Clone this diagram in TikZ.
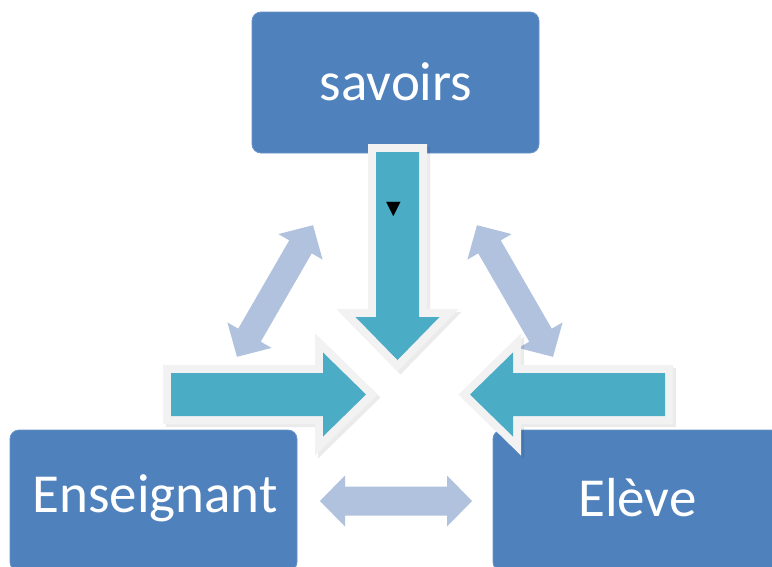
\documentclass[tikz,border=0pt]{standalone}
\usepackage{fontspec}
\setmainfont{Carlito}
\newfontfamily\symfont{DejaVu Sans}
\definecolor{boxblue}{HTML}{4F81BD}
\definecolor{tealc}{HTML}{4BACC6}
\definecolor{rimgray}{HTML}{F2F2F2}
\definecolor{lightarrow}{HTML}{B1C2DE}
\begin{document}
\begin{tikzpicture}[x=1pt,y=-1pt,
  box/.style={fill=boxblue, draw=boxblue!85!white, line width=0.8pt, rounded corners=9pt,
    minimum width=287pt, minimum height=141pt, inner sep=0pt, outer sep=0pt},
  boxtext/.style={text=white, font=\fontsize{55}{62}\selectfont, inner sep=0pt},
  dblarr/.style={fill=lightarrow},
  arrshadow/.style={draw=black, fill=black, opacity=0.08, line width=16pt, line join=miter},
  arrrim/.style={draw=rimgray, fill=rimgray, line width=16pt, line join=miter},
  arrbody/.style={fill=tealc}
]
\useasboundingbox (0,0) rectangle (772,566);
\fill[white] (0,0) rectangle (772,566);

% boxes
\node[box] (savoirs) at (395.5,82.5) {};
\node[box] (enseignant) at (153.5,500.5) {};
\node[box] (eleve) at (636.5,500.5) {};
\node[boxtext] (savoirsT) at (396,82) {savoirs};
\node[boxtext] (enseignantT) at (155,498) {Enseignant};
\node[boxtext] (eleveT) at (637.5,498) {Elève};

% light double arrows
\begin{scope}[shift={(275,291)}, rotate=60]
  \fill[dblarr] (-76,0) -- (-51,25.5) -- (-51,13) -- (51,13) -- (51,25.5) -- (76,0)
    -- (51,-25.5) -- (51,-13) -- (-51,-13) -- (-51,-25.5) -- cycle;
\end{scope}
\begin{scope}[shift={(515,291)}, rotate=-60]
  \fill[dblarr] (-76,0) -- (-51,25.5) -- (-51,13) -- (51,13) -- (51,25.5) -- (76,0)
    -- (51,-25.5) -- (51,-13) -- (-51,-13) -- (-51,-25.5) -- cycle;
\end{scope}
\begin{scope}[shift={(396,501)}]
  \fill[dblarr] (-76,0) -- (-51,25.5) -- (-51,14.5) -- (51,14.5) -- (51,25.5) -- (76,0)
    -- (51,-25.5) -- (51,-14.5) -- (-51,-14.5) -- (-51,-25.5) -- cycle;
\end{scope}

% teal arrows: down
\foreach \st/\dx in {arrshadow/3, arrrim/0, arrbody/0}{
  \begin{scope}[shift={(\dx,\dx)}]
  \path[\st] (376,152) -- (419,152) -- (419,317) -- (439.5,317) -- (397.5,360)
     -- (355.5,317) -- (376,317) -- cycle;
  \end{scope}
}
% right-pointing
\foreach \st/\dx in {arrshadow/3, arrrim/0, arrbody/0}{
  \begin{scope}[shift={(\dx,\dx)}]
  \path[\st] (171,373) -- (323,373) -- (323,352.5) -- (366,394.5) -- (323,436.5)
     -- (323,416) -- (171,416) -- cycle;
  \end{scope}
}
% left-pointing
\foreach \st/\dx in {arrshadow/3, arrrim/0, arrbody/0}{
  \begin{scope}[shift={(\dx,\dx)}]
  \path[\st] (665,373) -- (513,373) -- (513,352.5) -- (470,394.5) -- (513,436.5)
     -- (513,416) -- (665,416) -- cycle;
  \end{scope}
}

\node[inner sep=0pt, font=\symfont\fontsize{19}{20}\selectfont] (tri) at (393.5,210) {▼};
\end{tikzpicture}
\end{document}
